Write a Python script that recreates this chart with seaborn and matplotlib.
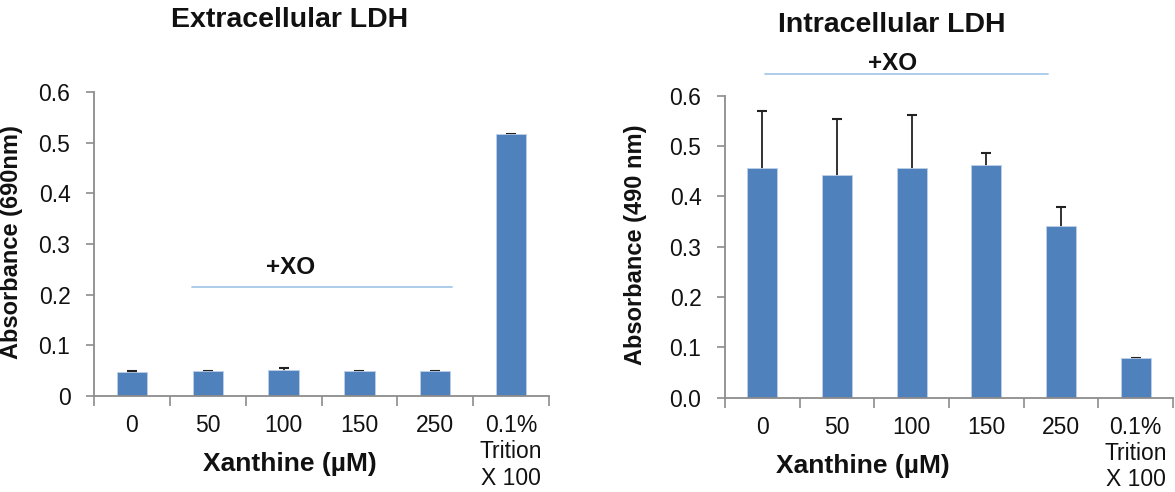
import matplotlib
matplotlib.use("Agg")
import matplotlib.pyplot as plt
import seaborn as sns
import numpy as np
import pandas as pd
from matplotlib.ticker import FixedLocator, FuncFormatter

# Categories (xanthine concentration, plus Triton X-100 lysis control)
categories = ["0", "50", "100", "150", "250", "0.1%\nTrition\nX 100"]

# Extracellular LDH (absorbance at 690 nm)
extra_mean = [0.048, 0.049, 0.052, 0.049, 0.049, 0.517]
extra_err = [0.001, 0.001, 0.004, 0.001, 0.001, 0.001]

# Intracellular LDH (absorbance at 490 nm)
intra_mean = [0.456, 0.442, 0.457, 0.462, 0.341, 0.078]
intra_err = [0.113, 0.112, 0.104, 0.025, 0.037, 0.001]

sns.set_theme(style="white")
plt.rcParams["font.family"] = ["Liberation Sans", "DejaVu Sans"]

BAR = "#4F81BD"
AXIS = "#8C8C8C"
XO_LINE = "#9DC3E6"

fig = plt.figure(figsize=(11.75, 4.92), dpi=100)
ax1 = fig.add_axes([94 / 1175, 1 - 396 / 492, 455 / 1175, 304 / 492])
ax2 = fig.add_axes([725 / 1175, 1 - 397.7 / 492, 448 / 1175, 302 / 492])


def draw_panel(ax, means, errs, ylabel, ylab_x, fmt):
    df = pd.DataFrame({"cat": categories, "val": means})
    xs = np.arange(len(categories))
    # error bars sit behind the bars so only the upper half shows
    ax.errorbar(xs, means, yerr=errs, fmt="none", ecolor="#222222",
                elinewidth=1.3, capsize=3.5, capthick=1.5, zorder=0.5)
    sns.barplot(data=df, x="cat", y="val", color=BAR, width=0.4,
                saturation=1, edgecolor="#BFD0E8", linewidth=0.6, ax=ax,
                zorder=1)
    ax.set_xlim(-0.5, len(categories) - 0.5)
    ax.set_ylim(0, 0.6)
    ax.set_yticks(np.arange(0, 0.61, 0.1))
    ax.yaxis.set_major_formatter(FuncFormatter(fmt))
    ax.set_xticks(xs)
    ax.set_xticklabels(categories, fontsize=16.5, linespacing=1.18)
    ax.xaxis.set_minor_locator(FixedLocator(np.arange(-0.5, len(categories), 1.0)))
    ax.tick_params(axis="x", which="major", length=0, pad=13, colors="#111111",
                   labelsize=16.5)
    ax.tick_params(axis="x", which="minor", length=7, width=1.2, color=AXIS,
                   direction="out", bottom=True)
    ax.tick_params(axis="y", length=6, width=1.2, color=AXIS, direction="out",
                   left=True, pad=11, labelsize=16.5, labelcolor="#111111")
    for s in ("top", "right"):
        ax.spines[s].set_visible(False)
    for s in ("left", "bottom"):
        ax.spines[s].set_color(AXIS)
        ax.spines[s].set_linewidth(1.3)
    ax.set_xlabel("")
    ax.set_ylabel(ylabel, fontsize=17, fontweight="bold", color="#111111")
    ax.yaxis.set_label_coords(ylab_x, 0.505)


draw_panel(ax1, extra_mean, extra_err, "Absorbance (690nm)", -0.156,
           lambda v, p: "0" if abs(v) < 1e-9 else f"{v:.1f}")
draw_panel(ax2, intra_mean, intra_err, "Absorbance (490 nm)", -0.174,
           lambda v, p: f"{v:.1f}")

# Panel titles and x-axis labels
fig.text(290 / 1175, 1 - 20 / 492, "Extracellular LDH", ha="center", va="center",
         fontsize=20.5, fontweight="bold", color="#111111")
fig.text(892 / 1175, 1 - 25 / 492, "Intracellular LDH", ha="center", va="center",
         fontsize=20.5, fontweight="bold", color="#111111")
fig.text(290 / 1175, 1 - 464 / 492, "Xanthine (µM)", ha="center", va="center",
         fontsize=19, fontweight="bold", color="#111111")
fig.text(863 / 1175, 1 - 466 / 492, "Xanthine (µM)", ha="center", va="center",
         fontsize=19, fontweight="bold", color="#111111")

# "+XO" brackets over the xanthine-oxidase treated groups
ax1.plot([0.79, 4.22], [0.215, 0.215], color=XO_LINE, lw=1.2, clip_on=False)
ax1.text(2.09, 0.254, "+XO", ha="center", va="center", fontsize=17.5,
         fontweight="bold", color="#111111")
ax2.plot([0.035, 3.82], [0.643, 0.643], color=XO_LINE, lw=1.2, clip_on=False)
ax2.text(1.75, 0.663, "+XO", ha="center", va="center", fontsize=17.5,
         fontweight="bold", color="#111111", clip_on=False)

fig.savefig("out.png", dpi=100)
